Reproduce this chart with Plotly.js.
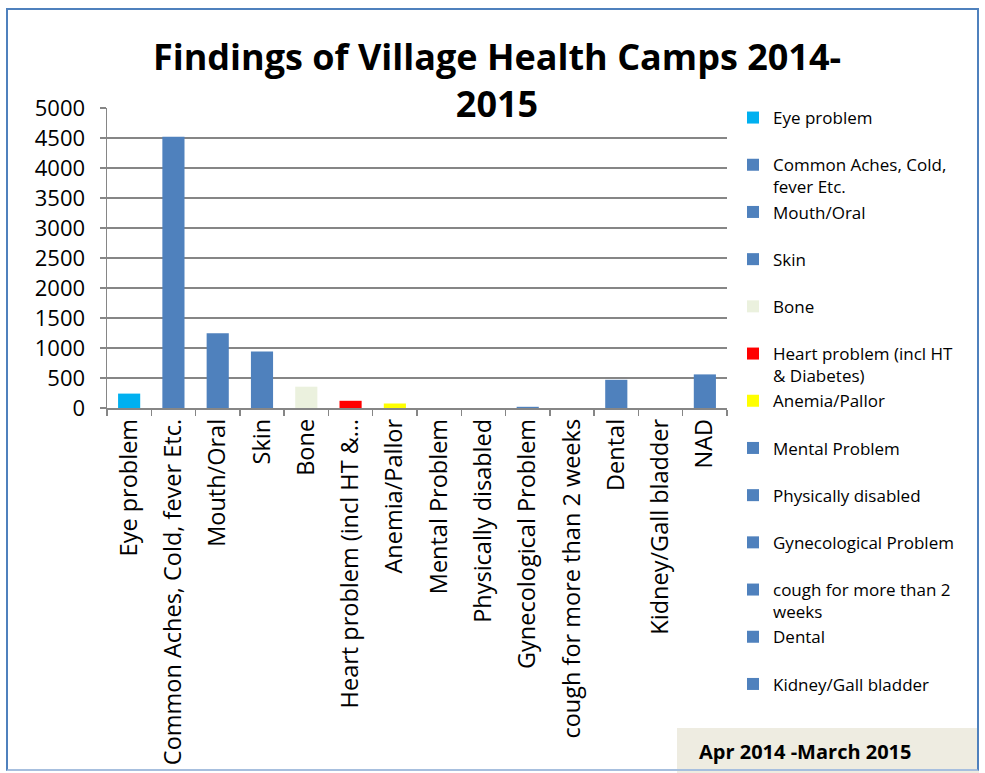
<!DOCTYPE html>
<html>
<head>
<meta charset="utf-8">
<script src="https://cdn.plot.ly/plotly-3.0.1.min.js"></script>
<style>
  html, body { margin: 0; padding: 0; background: #ffffff; }
  #wrap { position: relative; width: 985px; height: 773px; overflow: hidden; }
  #chart { width: 985px; height: 773px; }
  #frame { position: absolute; left: 6px; top: 8px; width: 973px; height: 763px;
           border: 2px solid #4F81BD; border-bottom-color: #A7BFDE; pointer-events: none; box-sizing: border-box; }
</style>
</head>
<body>
<div id="wrap">
  <div id="chart"></div>
  <div id="frame"></div>
</div>
<script>
// ---- data ----
const categories = [
  "Eye problem",
  "Common Aches, Cold, fever Etc.",
  "Mouth/Oral",
  "Skin",
  "Bone",
  "Heart problem (incl HT & Diabetes)",
  "Anemia/Pallor",
  "Mental Problem",
  "Physically disabled",
  "Gynecological Problem",
  "cough for more than 2 weeks",
  "Dental",
  "Kidney/Gall bladder",
  "NAD"
];
const tickLabels = [
  "Eye problem",
  "Common Aches, Cold, fever Etc.",
  "Mouth/Oral",
  "Skin",
  "Bone",
  "Heart problem (incl HT &…",
  "Anemia/Pallor",
  "Mental Problem",
  "Physically disabled",
  "Gynecological Problem",
  "cough for more than 2 weeks",
  "Dental",
  "Kidney/Gall bladder",
  "NAD"
];
const legendLabels = [
  "Eye problem<br> ",
  "Common Aches, Cold,<br>fever Etc.",
  "Mouth/Oral<br> ",
  "Skin<br> ",
  "Bone<br> ",
  "Heart problem (incl HT<br>& Diabetes)",
  "Anemia/Pallor<br> ",
  "Mental Problem<br> ",
  "Physically disabled<br> ",
  "Gynecological Problem<br> ",
  "cough for more than 2<br>weeks",
  "Dental<br> ",
  "Kidney/Gall bladder<br> ",
  "NAD<br> "
];
const values = [240, 4520, 1245, 940, 355, 120, 75, 0, 0, 20, 0, 470, 0, 560];
const barColors = ["#00B0F0", "#4F81BD", "#4F81BD", "#4F81BD", "#EBF1DE", "#FF0000", "#FFFF00",
                   "#4F81BD", "#4F81BD", "#4F81BD", "#4F81BD", "#4F81BD", "#4F81BD", "#4F81BD"];
const inLegend = [true, true, true, true, true, true, true, true, true, true, true, true, true, false];
const yTicks = [0, 500, 1000, 1500, 2000, 2500, 3000, 3500, 4000, 4500, 5000];

// ---- geometry helpers (plot area in pixels) ----
const W = 985, H = 773;
const M = { l: 107, r: 258, t: 108, b: 365 };
const pw = W - M.l - M.r, ph = H - M.t - M.b;
const px2x = p => (p - M.l) / pw;
const py2y = p => (H - M.b - p) / ph;

const FONT = "Open Sans, Noto Sans, Liberation Sans, sans-serif";

const traces = categories.map((c, i) => ({
  type: "bar",
  x: [c],
  y: [values[i]],
  name: legendLabels[i],
  showlegend: inLegend[i],
  width: 0.5,
  marker: { color: barColors[i], line: { width: 0 } },
  hoverinfo: "x+y"
}));

const layout = {
  width: W, height: H,
  margin: M,
  paper_bgcolor: "#ffffff",
  plot_bgcolor: "#ffffff",
  barmode: "overlay",
  font: { family: FONT, color: "#000000" },
  title: {
    text: "<b>Findings of Village Health Camps 2014-<br>2015</b>",
    font: { family: FONT, size: 36, color: "#000000" },
    xref: "container", x: 497 / W, xanchor: "center",
    yref: "container", y: 1 - 70 / H, yanchor: "top"
  },
  xaxis: {
    type: "category",
    tickvals: categories,
    ticktext: tickLabels,
    tickangle: -90,
    tickfont: { family: FONT, size: 23.5, color: "#000000" },
    showline: true, linecolor: "#868686", linewidth: 1.5,
    ticks: "outside", tickson: "boundaries", ticklen: 6, tickcolor: "#868686", tickwidth: 1.5,
    showgrid: false, zeroline: false, automargin: false,
    range: [-0.5, categories.length - 0.5]
  },
  yaxis: {
    range: [0, 5000],
    tickmode: "array", tickvals: yTicks, ticktext: yTicks.map(String),
    tickfont: { family: FONT, size: 22, color: "#000000" },
    showline: true, linecolor: "#868686", linewidth: 1.5,
    ticks: "outside", ticklen: 6, tickcolor: "#868686", tickwidth: 1.5,
    ticklabelstandoff: 10,
    showgrid: true, gridcolor: "#868686", gridwidth: 1.5,
    zeroline: false, automargin: false
  },
  legend: {
    xref: "container", yref: "container",
    x: 733 / W, xanchor: "left",
    y: 1 - 100 / H, yanchor: "top",
    maxheight: 700,
    font: { family: FONT, size: 17, color: "#000000" },
    valign: "top",
    bgcolor: "rgba(0,0,0,0)",
    traceorder: "normal"
  },
  shapes: [{
    type: "rect", xref: "paper", yref: "paper",
    x0: px2x(677), x1: px2x(979), y0: py2y(773), y1: py2y(728),
    fillcolor: "#EEECE1", line: { width: 0 }, layer: "above"
  }],
  annotations: [{
    xref: "paper", yref: "paper",
    x: px2x(697), y: py2y(751),
    xanchor: "left", yanchor: "middle",
    text: "<b>Apr 2014 -March 2015</b>",
    showarrow: false,
    font: { family: FONT, size: 20, color: "#000000" }
  }]
};

Plotly.newPlot("chart", traces, layout, { displayModeBar: false, staticPlot: true });
</script>
</body>
</html>
